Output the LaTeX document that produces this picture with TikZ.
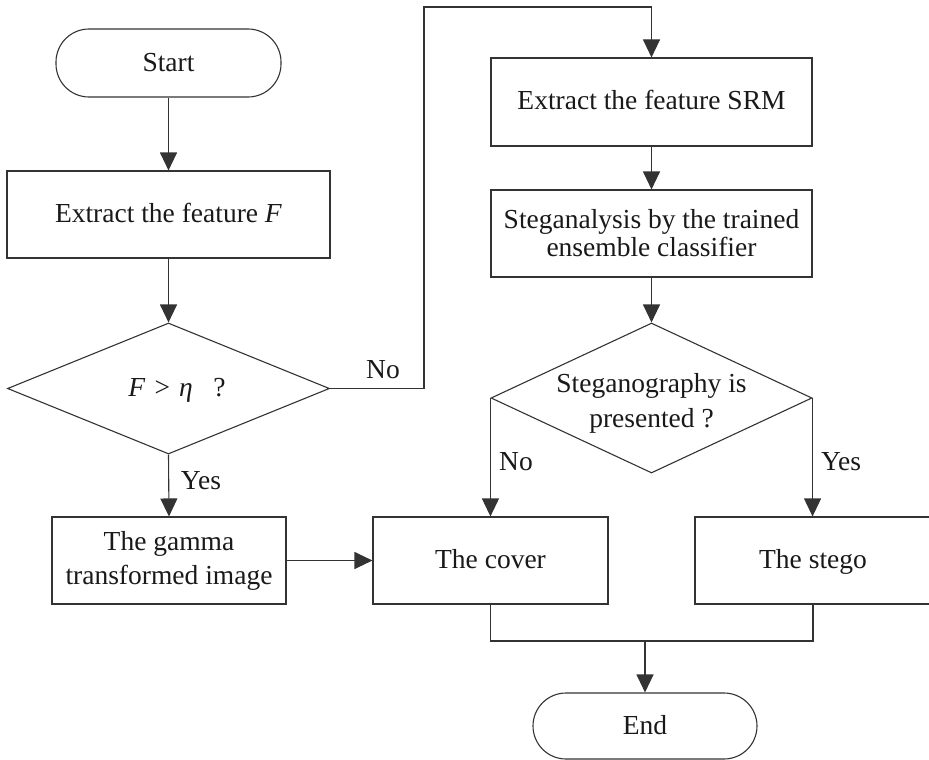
\documentclass[tikz,border=0pt]{standalone}
\usepackage{fontspec}
\setmainfont{Liberation Serif}
\usetikzlibrary{arrows.meta,shapes.geometric}

\tikzset{
  flow/.style={draw=black!80, line width=1.1pt},
  arr/.style={flow, -{Triangle[length=18pt,width=17pt]}},
  box/.style={flow, rectangle, inner sep=0pt, align=center, text=black!90,
    font=\fontsize{27.5}{30}\selectfont},
  oneline/.style={text height=21pt, text depth=5pt},
  term/.style={box, oneline, rounded corners=33pt},
  decide/.style={flow, diamond, inner sep=0pt, minimum width=10pt},
  txt/.style={text=black!90, font=\fontsize{27.5}{30}\selectfont, inner sep=0pt, align=center},
  lbl/.style={txt}
}

\begin{document}
\begin{tikzpicture}[x=1pt,y=-1pt]
\useasboundingbox (0,0) rectangle (929,760);

% left column
\node[term, minimum width=225pt, minimum height=68pt] (start) at (168.5,63) {Start};
\node[box, oneline, minimum width=323pt, minimum height=87pt] (featF) at (168.5,214.5)
  {Extract the feature \textit{F}};
\node[decide, minimum width=322pt, minimum height=131pt] (testF) at (168.5,388.5) {};
\node[txt] (testFtxt) at (177,390) {\textit{F}\,\,>\,\,\textit{η}\,\,\, ?};
\node[box, minimum width=234pt, minimum height=87pt,
  font=\fontsize{27.5}{34}\selectfont] (gamma) at (169,560.5)
  {The gamma\\transformed image};

% right column
\node[box, oneline, minimum width=321pt, minimum height=88pt] (srm) at (651.5,102)
  {Extract the feature SRM};
\node[box, minimum width=321pt, minimum height=87pt,
  font=\fontsize{27.5}{28}\selectfont] (ens) at (651.5,233.5)
  {Steganalysis by the trained\\ensemble classifier};
\node[decide, minimum width=321pt, minimum height=150pt] (testS) at (651.5,398) {};
\node[txt, font=\fontsize{27.5}{35}\selectfont] (testStxt) at (651.5,403)
  {Steganography is\\presented ?};
\node[box, oneline, minimum width=235pt, minimum height=87pt] (cover) at (490.5,560.5) {The cover};
\node[box, oneline, minimum width=236pt, minimum height=87pt] (stego) at (813,560.5) {The stego};
\node[term, minimum width=224pt, minimum height=66pt] (stop) at (645,726) {End};

% connectors
\draw[arr] (start) -- (featF);
\draw[arr] (featF) -- (testF);
\draw[arr] (testF.south) -- (gamma.north);
\draw[arr] (gamma.east) -- (gamma.east -| cover.west);

\coordinate (noA) at (424,388.5);
\coordinate (noB) at (424,7);
\draw[arr] (testF.east) -- (noA) -- (noB) -| (srm.north);
\draw[arr] (srm) -- (ens);
\draw[arr] (ens) -- (testS.north);
\draw[arr] (testS.west) -- (testS.west |- cover.north);
\draw[arr] (testS.east) -- (testS.east |- stego.north);

\coordinate (joinL) at (490.5,641);
\coordinate (joinR) at (813,641);
\coordinate (joinM) at (645,641);
\draw[flow] (cover.south) -- (joinL) -- (joinR) -- (stego.south);
\draw[arr] (joinM) -- (stop.north);

% branch labels
\node[lbl] (yes1) at (201,481) {Yes};
\node[lbl] (no1) at (383,370) {No};
\node[lbl] (no2) at (516,462) {No};
\node[lbl] (yes2) at (841,462) {Yes};
\end{tikzpicture}
\end{document}
